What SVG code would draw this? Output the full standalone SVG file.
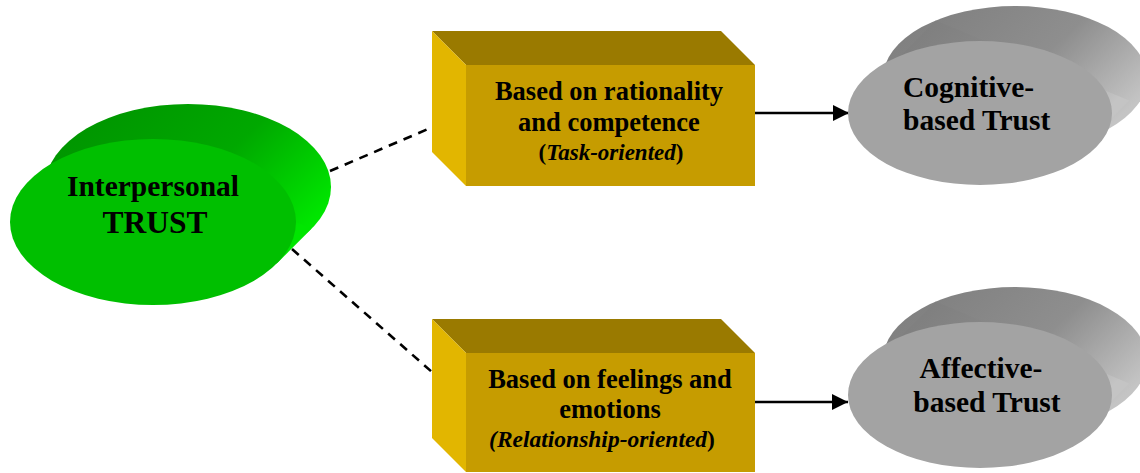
<svg xmlns="http://www.w3.org/2000/svg" width="1140" height="473" viewBox="0 0 1140 473">
<defs>
<linearGradient id="gside" x1="0" y1="0" x2="1" y2="0.6">
<stop offset="0" stop-color="#009000"/>
<stop offset="0.6" stop-color="#00a800"/>
<stop offset="1" stop-color="#00e600"/>
</linearGradient>
<linearGradient id="sside" x1="0" y1="0" x2="1" y2="0.6">
<stop offset="0" stop-color="#7c7c7c"/>
<stop offset="0.6" stop-color="#8e8e8e"/>
<stop offset="1" stop-color="#c4c4c4"/>
</linearGradient>
<marker id="arr" viewBox="0 0 16 16" refX="16" refY="8" markerWidth="16" markerHeight="16" markerUnits="userSpaceOnUse" orient="auto">
<path d="M0,0 L16,8 L0,16 Z" fill="#000"/>
</marker>
</defs>
<style>
.t{font-family:"Liberation Serif","Times New Roman",serif;font-weight:bold;fill:#000;text-anchor:middle}
.s{text-anchor:start}
.dash{stroke:#000;stroke-width:2.6;stroke-dasharray:9 7;fill:none}
.arrow{stroke:#000;stroke-width:2.6;fill:none}
.bfront{fill:#c69c00}
.btop{fill:#9a7a00}
.bleft{fill:#e2b600}
</style>
<g id="connectors">
<line class="dash" x1="330" y1="171" x2="428" y2="129"/>
<line class="dash" x1="292" y1="249" x2="432" y2="372"/>
<line class="arrow" x1="753" y1="113" x2="849" y2="113" marker-end="url(#arr)"/>
<line class="arrow" x1="753" y1="402" x2="848" y2="402" marker-end="url(#arr)"/>
</g>
<g id="interpersonal-trust">
<ellipse cx="188" cy="187" rx="143" ry="83" fill="url(#gside)"/>
<polygon points="276.7,263.6 311.7,228.6 99.3,145.4 64.3,180.4" fill="url(#gside)"/>
<ellipse cx="153" cy="222" rx="143" ry="83" fill="#00bf00"/>
<text class="t" x="153" y="196" font-size="29.5">Interpersonal</text>
<text class="t" x="155" y="233" font-size="31.5">TRUST</text>
</g>
<g id="box-task">
<polygon class="btop" points="432,31 721,31 755,65 466,65"/>
<polygon class="bleft" points="432,31 466,65 466,186 432,152"/>
<rect class="bfront" x="466" y="65" width="289" height="121"/>
<text class="t" x="609" y="100" font-size="26.5">Based on rationality</text>
<text class="t" x="609" y="131" font-size="26.5">and competence</text>
<text class="t" x="611" y="160" font-size="23">(<tspan font-style="italic">Task-oriented</tspan>)</text>
</g>
<g id="box-relationship">
<polygon class="btop" points="432,319 721,319 755,353 466,353"/>
<polygon class="bleft" points="432,319 466,353 466,472 432,438"/>
<rect class="bfront" x="466" y="353" width="289" height="119"/>
<text class="t" x="610" y="388" font-size="26.5">Based on feelings and</text>
<text class="t" x="610" y="418" font-size="26.5">emotions</text>
<text class="t" x="602" y="447" font-size="23.5" font-style="italic">(Relationship-oriented<tspan font-style="normal">)</tspan></text>
</g>
<g id="cognitive-trust">
<ellipse cx="1015" cy="78" rx="132" ry="72" fill="url(#sside)"/>
<polygon points="1094.2,135.6 1129.2,100.6 935.8,20.4 900.8,55.4" fill="url(#sside)"/>
<ellipse cx="980" cy="113" rx="132" ry="72" fill="#a3a3a3"/>
<text class="t s" x="903" y="97" font-size="29.5">Cognitive-</text>
<text class="t s" x="903" y="130" font-size="29.5">based Trust</text>
</g>
<g id="affective-trust">
<ellipse cx="1015" cy="360" rx="132" ry="73" fill="url(#sside)"/>
<polygon points="1094.2,418.4 1129.2,383.4 935.8,301.6 900.8,336.6" fill="url(#sside)"/>
<ellipse cx="980" cy="395" rx="132" ry="73" fill="#a3a3a3"/>
<text class="t" x="981" y="378" font-size="29.5">Affective-</text>
<text class="t" x="987" y="412" font-size="29.5">based Trust</text>
</g>
</svg>
